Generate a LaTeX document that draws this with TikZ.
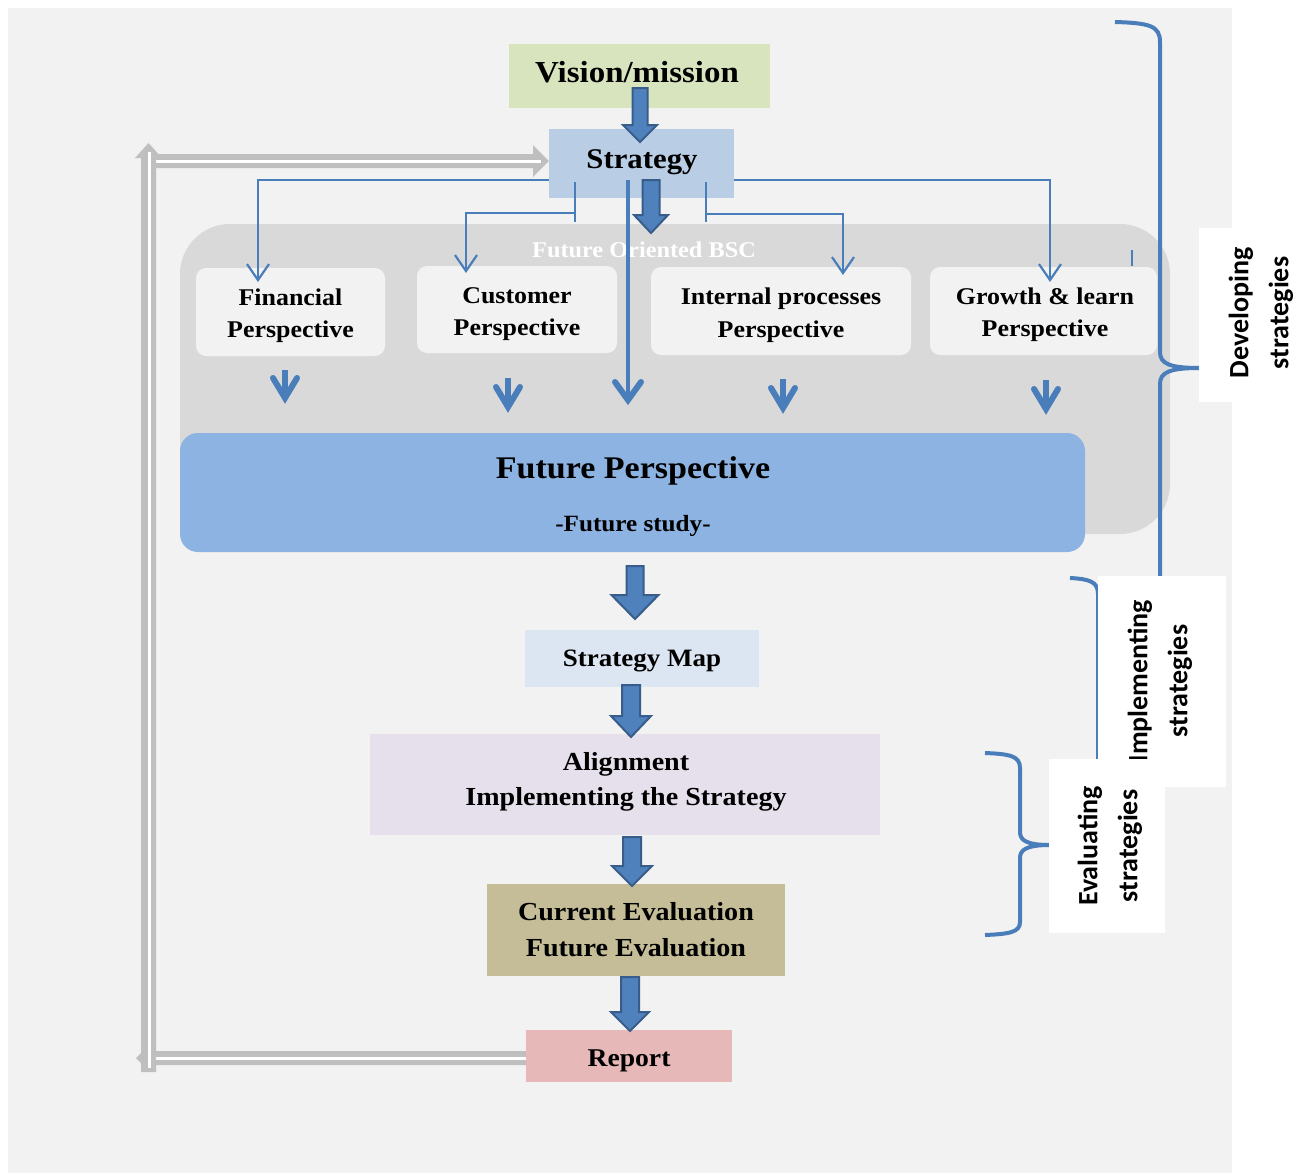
\documentclass[tikz,border=0pt]{standalone}
\usepackage{fontspec}
\setmainfont{Liberation Serif}[FakeStretch=1.08]
\newfontfamily\calfont{Carlito}
\usetikzlibrary{arrows.meta,calc}
\definecolor{bgc}{HTML}{F2F2F2}
\definecolor{regionc}{HTML}{D9D9D9}
\definecolor{visionc}{HTML}{D7E4BD}
\definecolor{stratc}{HTML}{B9CDE5}
\definecolor{futurec}{HTML}{8DB3E2}
\definecolor{smapc}{HTML}{DCE6F2}
\definecolor{alignc}{HTML}{E6E0EC}
\definecolor{evalc}{HTML}{C4BD97}
\definecolor{reportc}{HTML}{E6B9B8}
\definecolor{linec}{HTML}{4A7EBB}
\definecolor{arrowfill}{HTML}{4F81BD}
\definecolor{arrowedge}{HTML}{385D8A}
\definecolor{grayc}{HTML}{BFBFBF}
\newcommand\bluearrow[6]{%
  \filldraw[fill=arrowfill, draw=arrowedge, line width=2pt, line join=miter]
    ({#1-#5},#2) -- ({#1+#5},#2) -- ({#1+#5},#3) -- ({#1+#6},#3) -- (#1,#4)
    -- ({#1-#6},#3) -- ({#1-#5},#3) -- cycle;}
% V-headed arrow: x, top, tip, half width, arm drop
\newcommand\varrow[5]{%
  \draw[draw=linec, line width=5.5pt] (#1,#2) -- (#1,{#3-6});
  \draw[draw=linec, line width=6pt, line cap=round, line join=miter, miter limit=10]
    ({#1-#4},{#3-#5}) -- (#1,{#3-3}) -- ({#1+#4},{#3-#5});}
\begin{document}
\begin{tikzpicture}[x=1pt,y=-1pt,
  box/.style={rectangle, inner sep=0pt},
  persp/.style={box, fill=bgc, rounded corners=10pt},
  ptxt/.style={anchor=base, inner sep=0pt, font=\bfseries\fontsize{24}{28}\selectfont},
  conn/.style={draw=linec, line width=2.2pt},
  connarr/.style={conn, -{Straight Barb[length=16pt,width=22pt]}},
  brace/.style={draw=linec, line width=4pt},
  lab/.style={rotate=90, align=center, font=\calfont\bfseries\fontsize{28}{40}\selectfont}]
\useasboundingbox (0,0) rectangle (1296,1173);
\fill[bgc] (8,8) rectangle (1232,1173);

% BSC region
\node[box, fill=regionc, rounded corners=50pt, minimum width=990pt, minimum height=310pt] (bsc) at (675,379) {};
\node[anchor=base, inner sep=0pt, text=white, font=\bfseries\fontsize{22.5}{26}\selectfont] (bsctitle) at (644,257) {Future Oriented BSC};

% perspective boxes
\node[persp, minimum width=189pt, minimum height=88pt] (fin) at (290.5,312) {};
\node[ptxt] (fin1) at (290.5,305) {Financial};
\node[ptxt] (fin2) at (290.5,337) {Perspective};
\node[persp, minimum width=200pt, minimum height=87pt] (cust) at (517,309.5) {};
\node[ptxt] (cust1) at (517,303) {Customer};
\node[ptxt] (cust2) at (517,335) {Perspective};
\node[persp, minimum width=260pt, minimum height=88pt] (intp) at (781,311) {};
\node[ptxt] (intp1) at (781,304) {Internal processes};
\node[ptxt] (intp2) at (781,337) {Perspective};
\node[persp, minimum width=227pt, minimum height=88pt] (grow) at (1043.5,311) {};
\node[ptxt] (grow1) at (1045,304) {Growth \& learn};
\node[ptxt] (grow2) at (1045,336) {Perspective};

% future perspective
\node[box, fill=futurec, rounded corners=18pt, minimum width=905pt, minimum height=119pt] (future) at (632.5,492.5) {};
\node[anchor=base, inner sep=0pt, font=\bfseries\fontsize{31.5}{36}\selectfont] (futt) at (633,478) {Future Perspective};
\node[anchor=base, inner sep=0pt, font=\bfseries\fontsize{23.3}{28}\selectfont] (futs) at (633,531) {-Future study-};

% top boxes
\node[box, fill=visionc, minimum width=261pt, minimum height=64pt] (vision) at (639.5,76) {};
\node[anchor=base, inner sep=0pt, font=\bfseries\fontsize{30.5}{36}\selectfont] (visiont) at (637,82) {Vision/mission};
\node[box, fill=stratc, minimum width=185pt, minimum height=69pt] (strategy) at (641.5,163.5) {};
\node[anchor=base, inner sep=0pt, font=\bfseries\fontsize{28.5}{34}\selectfont] (strategyt) at (642,168) {Strategy};

% lower boxes
\node[box, fill=smapc, minimum width=234pt, minimum height=57pt] (smap) at (642,658.5) {};
\node[anchor=base, inner sep=0pt, font=\bfseries\fontsize{25}{30}\selectfont] (smapt) at (642,666) {Strategy Map};
\node[box, fill=alignc, minimum width=510pt, minimum height=101pt] (align) at (625,784.5) {};
\node[anchor=base, inner sep=0pt, font=\bfseries\fontsize{26}{30}\selectfont] (align1) at (626,770) {Alignment};
\node[anchor=base, inner sep=0pt, font=\bfseries\fontsize{26}{30}\selectfont] (align2) at (626,805) {Implementing the Strategy};
\node[box, fill=evalc, minimum width=298pt, minimum height=92pt] (evalb) at (636,930) {};
\node[anchor=base, inner sep=0pt, font=\bfseries\fontsize{26}{30}\selectfont] (eval1) at (636,920) {Current Evaluation};
\node[anchor=base, inner sep=0pt, font=\bfseries\fontsize{26}{30}\selectfont] (eval2) at (636,956) {Future Evaluation};
\node[box, fill=reportc, minimum width=206pt, minimum height=52pt] (report) at (629,1056) {};
\node[anchor=base, inner sep=0pt, font=\bfseries\fontsize{25.6}{30}\selectfont] (reportt) at (629,1066) {Report};

% thin connectors from strategy
\draw[connarr] ([yshift=18pt]strategy.south west) -| (258,282);
\draw[connarr] ([yshift=18pt]strategy.south east) -| (1050,282);
\draw[conn] (575,182) -- (575,222);
\draw[connarr] (575,213) -| (466,273);
\draw[conn] (706,182) -- (706,222);
\draw[connarr] (706,214) -| (843,275);
\draw[conn] (1132,250) -- (1132,266);

% long arrow from strategy
\draw[draw=linec, line width=4.5pt] (628,180) -- (628,398);
\draw[draw=linec, line width=6pt, line cap=round, line join=miter, miter limit=10]
  (615,382) -- (628,400) -- (641,382);

% small arrows into future perspective
\varrow{285}{370}{401}{12}{23}
\varrow{508}{378}{410}{12}{23}
\varrow{783}{379}{411}{12}{23}
\varrow{1046}{380}{412}{12}{23}

% block arrows
\bluearrow{640}{88}{125}{142}{7.5}{17}
\bluearrow{651}{180}{215}{233}{8.5}{17}
\bluearrow{635}{566}{595}{619}{8.5}{23.5}
\bluearrow{631}{685}{716}{737}{9}{20}
\bluearrow{632}{837}{866}{886}{9}{20}
\bluearrow{630}{977}{1012}{1031}{9}{19}

% gray feedback loop
\fill[grayc] (report.west |- 0,1051) -- (143,1051) -- (136,1058) -- (143,1065) -- (report.west |- 0,1065) -- cycle;
\draw[white, line width=3pt] (report.west) ++(0,2) -- (142,1058);
\fill[grayc] (155,154) -- (533,154) -- (533,145) -- (strategy.west |- 0,161) -- (533,177) -- (533,168) -- (155,168) -- cycle;
\draw[white, line width=3pt] (156,161) -- (541,161);
\fill[grayc] (141,1072) -- (156,1072) -- (156,158) -- (162,158) -- (148.5,143) -- (135,158) -- (141,158) -- cycle;
\draw[white, line width=3pt] (149,1068) -- (149,152);

% braces
\draw[brace] (1115,22) .. controls (1150,23) and (1160,26) .. (1160,42) -- (1160,352)
  .. controls (1160,364) and (1170,368) .. (1200,368);
\draw[brace] (1200,368) .. controls (1170,368) and (1160,372) .. (1160,384) -- (1160,740);
\draw[brace] (1070,578) .. controls (1090,579) and (1098,582) .. (1098,594) -- (1098,790)
  .. controls (1098,798) and (1090,800) .. (1070,800);
\draw[brace] (985,753) .. controls (1010,754) and (1020,756) .. (1020,768) -- (1020,832)
  .. controls (1020,840) and (1026,845) .. (1050,845);
\draw[brace] (1050,845) .. controls (1026,845) and (1020,850) .. (1020,858) -- (1020,922)
  .. controls (1020,932) and (1010,934) .. (985,935);

% label boxes
\fill[white] (1199,228) rectangle (1296,402);
\node[lab] (devlab) at (1261,313) {Developing\\strategies};
\fill[white] (1098,576) rectangle (1226,787);
\node[lab] (implab) at (1160,681) {Implementing\\strategies};
\fill[white] (1049,759) rectangle (1165,933);
\node[lab] (evallab) at (1110,846) {Evaluating\\strategies};
\end{tikzpicture}
\end{document}
